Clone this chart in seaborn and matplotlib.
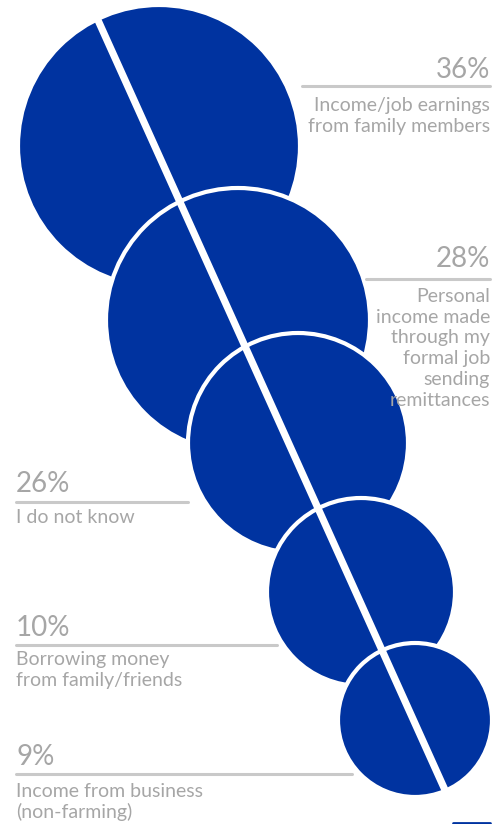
import matplotlib
matplotlib.use("Agg")
import matplotlib.pyplot as plt
import seaborn as sns
import pandas as pd

# data
labels = [["Income/job earnings", "from family members"],
          ["Personal", "income made", "through my", "formal job", "sending", "remittances"],
          ["I do not know"],
          ["Borrowing money", "from family/friends"],
          ["Income from business", "(non-farming)"]]
shares = [36, 28, 26, 10, 9]

# layout (pixels, y down)
centers_x = [159, 238, 298, 361, 415]
centers_y = [146, 320, 443, 592, 720]
radii = [141, 132, 110, 94, 77]
pct_base = [78, 267, 492, 636, 765]
rule_y = [86, 279, 502, 645, 774]
rule_x = [(302, 490), (366, 490), (16, 188), (16, 277), (16, 352)]
text_base = [111, 302, 523, 665, 797]
side = ["right", "right", "left", "left", "left"]
line_gap = 20.7

BLUE = "#0033a0"
GREY_TXT = "#a6a6a6"
GREY_RULE = "#c9c9c9"

sns.set_theme(style="white")
plt.rcParams["font.family"] = ["Lato", "DejaVu Sans"]

W, H, DPI = 503, 824, 100
fig = plt.figure(figsize=(W / DPI, H / DPI), dpi=DPI)
ax = fig.add_axes([0, 0, 1, 1])
ax.set_xlim(0, W)
ax.set_ylim(H, 0)
ax.set_aspect("equal")
ax.axis("off")

pt = 72 / DPI
df = pd.DataFrame({"x": centers_x, "y": centers_y,
                   "s": [(2 * r * pt) ** 2 for r in radii]})
sns.scatterplot(data=df, x="x", y="y", s=df["s"], color=BLUE,
                edgecolor="white", linewidth=3.0, ax=ax, legend=False, zorder=2)

# white diagonal cut
ax.plot([97, 445], [18, 790], color="white", lw=5.2, zorder=3, solid_capstyle="butt")

for i, (lab, v) in enumerate(zip(labels, shares)):
    x0, x1 = rule_x[i]
    ax.plot([x0, x1], [rule_y[i], rule_y[i]], color=GREY_RULE, lw=2.2, zorder=4)
    xt = x1 if side[i] == "right" else x0
    ax.text(xt, pct_base[i], f"{v}%", ha=side[i], va="baseline",
            fontsize=20, color=GREY_TXT, zorder=5)
    for j, ln in enumerate(lab):
        ax.text(xt, text_base[i] + j * line_gap, ln, ha=side[i], va="baseline",
                fontsize=14, color=GREY_TXT, zorder=5)

ax.plot([453, 490], [822.5, 822.5], color=BLUE, lw=2, zorder=5)

fig.savefig("out.png", dpi=DPI)
